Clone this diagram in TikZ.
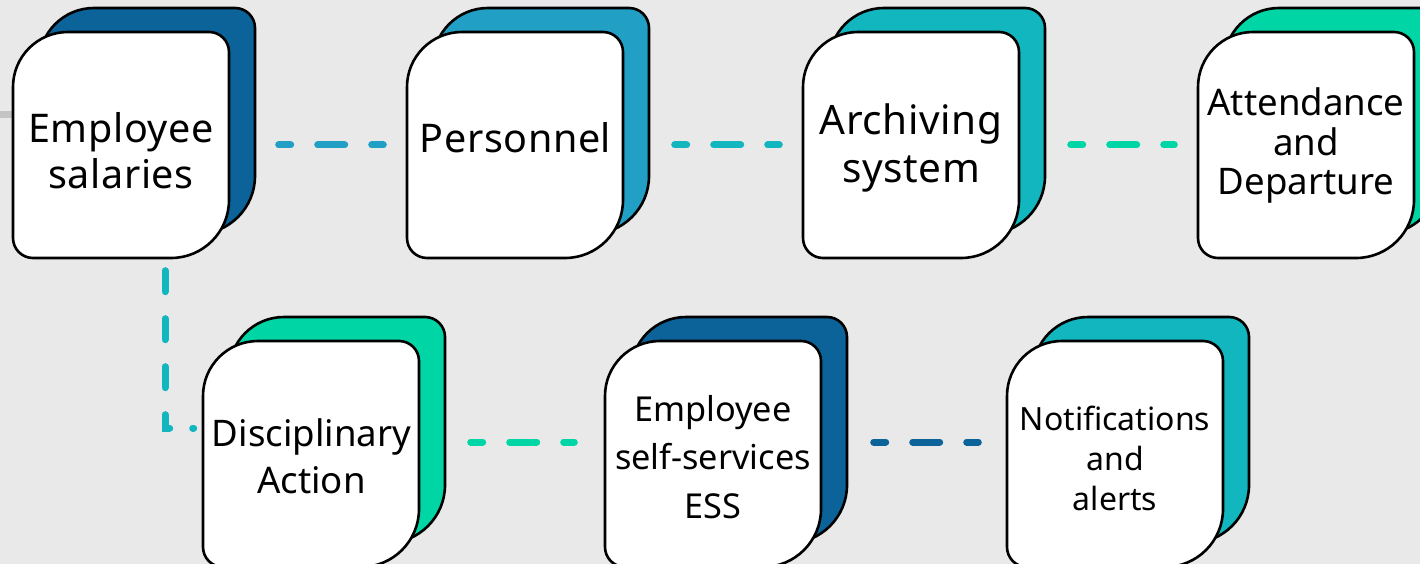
\documentclass[tikz,border=0pt]{standalone}
\usepackage{fontspec}
\setmainfont{Noto Sans}
\definecolor{bgc}{HTML}{E9E9E9}
\definecolor{dblue}{HTML}{0C6399}
\definecolor{mblue}{HTML}{219FC4}
\definecolor{tealc}{HTML}{12B6BF}
\definecolor{greenc}{HTML}{00D5A5}
\definecolor{grayl}{HTML}{C4C4C4}
\newcommand\cardshape[2]{(#1,#2+55) .. controls (#1,#2+24.62) and (#1+24.62,#2) .. (#1+55,#2) -- (#1+196,#2) .. controls (#1+207.05,#2) and (#1+216,#2+8.95) .. (#1+216,#2+20) -- (#1+216,#2+168) .. controls (#1+216,#2+200.03) and (#1+190.03,#2+226) .. (#1+158,#2+226) -- (#1+20,#2+226) .. controls (#1+8.95,#2+226) and (#1,#2+217.05) .. (#1,#2+206) -- cycle}
\newcommand\drawcard[4]{%
  \filldraw[fill=#4, cardline] \cardshape{#2+26}{#3-24};
  \filldraw[fill=white, cardline] \cardshape{#2}{#3};
  \node[box] (#1) at (#2+108,#3+113) {};
}
\tikzset{
  cardline/.style={draw=black, line width=2.6pt, line join=round},
  box/.style={minimum width=216pt, minimum height=226pt, inner sep=0pt},
  txt/.style={align=center, inner sep=0pt, text=black},
  conn/.style={line width=7pt, line cap=round, dash pattern=on 27pt off 27pt, dash phase=15pt},
}
\begin{document}
\begin{tikzpicture}[x=1pt,y=-1pt]
\useasboundingbox (0,0) rectangle (1420,564);
\clip (0,0) rectangle (1420,564);
\fill[bgc] (0,0) rectangle (1420,564);
\draw[grayl, line width=7pt] (0,115) -- (60,115);
% row 1
\drawcard{sal}{13}{32}{dblue}
\drawcard{per}{407}{32}{mblue}
\drawcard{arc}{803}{32}{tealc}
\drawcard{att}{1198}{32}{greenc}
% row 2
\drawcard{dis}{203}{341}{greenc}
\drawcard{ess}{605}{341}{dblue}
\drawcard{not}{1007}{341}{tealc}
% texts
\node[txt, font=\fontsize{39.5}{46}\selectfont\addfontfeature{LetterSpace=1.5}] (salT) at (121,150.5) {Employee\\salaries};
\node[txt, font=\fontsize{39.5}{45}\selectfont\addfontfeature{LetterSpace=1.5}] (perT) at (515.5,138) {Personnel};
\node[txt, font=\fontsize{40.5}{48}\selectfont\addfontfeature{LetterSpace=1.5}] (arcT) at (911,147.5) {Archiving\\system};
\node[txt, font=\fontsize{36.6}{39.5}\selectfont] (attT) at (1306,145.5) {Attendance\\and\\Departure};
\node[txt, font=\fontsize{36.6}{47}\selectfont] (disT) at (311.5,456) {Disciplinary\\Action};
\node[txt, font=\fontsize{34.3}{48.5}\selectfont] (essT) at (713,457) {Employee\\self-services\\ESS};
\node[txt, font=\fontsize{32}{40}\selectfont] (notT) at (1115,458) {Notifications\\and\\alerts};
% connectors
\draw[conn, mblue] ([xshift=49.5pt]sal.east) -- ([xshift=-23.5pt]per.west);
\draw[conn, tealc] ([xshift=51.5pt]per.east) -- ([xshift=-23.5pt]arc.west);
\draw[conn, greenc] ([xshift=51.5pt]arc.east) -- ([xshift=-23.5pt]att.west);
\draw[conn, greenc] ([xshift=51.5pt,yshift=12pt]dis.east) -- ([xshift=-30.5pt,yshift=12pt]ess.west);
\draw[conn, dblue] ([xshift=52.5pt,yshift=12pt]ess.east) -- ([xshift=-28.5pt,yshift=12pt]not.west);
\coordinate (vs) at ([xshift=44pt,yshift=-12.5pt]sal.south);
\coordinate (ve) at ([xshift=-9pt,yshift=26pt]dis.west);
\draw[conn, tealc, dash pattern=on 21pt off 27pt on 21pt off 27pt on 21pt off 27pt on 18pt off 23pt on 1pt off 50pt, dash phase=0pt] (vs) |- (ve);
\end{tikzpicture}
\end{document}
